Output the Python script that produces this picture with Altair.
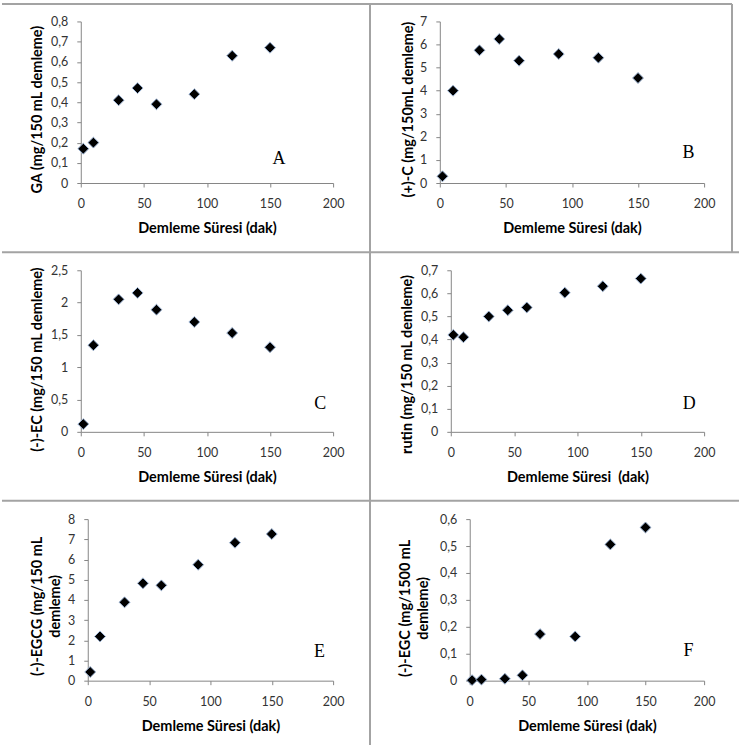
import altair as alt
import pandas as pd

# ---- data ----
times = [2, 10, 30, 45, 60, 90, 120, 150]
ga = [0.17, 0.20, 0.41, 0.47, 0.39, 0.44, 0.63, 0.67]
catechin = [0.29, 4.00, 5.75, 6.24, 5.30, 5.59, 5.43, 4.55]
ec = [0.12, 1.34, 2.05, 2.15, 1.89, 1.70, 1.53, 1.31]
rutin = [0.42, 0.41, 0.50, 0.527, 0.539, 0.603, 0.631, 0.664]
egcg = [0.43, 2.19, 3.88, 4.82, 4.72, 5.74, 6.83, 7.26]
egc = [0.002, 0.004, 0.007, 0.02, 0.173, 0.164, 0.506, 0.569]

x_ticks = [0, 50, 100, 150, 200]
y_ticks_a = [0, 0.1, 0.2, 0.3, 0.4, 0.5, 0.6, 0.7, 0.8]
y_ticks_b = [0, 1, 2, 3, 4, 5, 6, 7]
y_ticks_c = [0, 0.5, 1, 1.5, 2, 2.5]
y_ticks_d = [0, 0.1, 0.2, 0.3, 0.4, 0.5, 0.6, 0.7]
y_ticks_e = [0, 1, 2, 3, 4, 5, 6, 7, 8]
y_ticks_f = [0, 0.1, 0.2, 0.3, 0.4, 0.5, 0.6]

x_title = "Demleme Süresi (dak)"
x_title_d = "Demleme Süresi\u00a0 (dak)"

H = 162
W_LEFT = 253
W_RIGHT = 265
LABEL_EXPR = "replace(format(datum.value, '~g'), '.', ',')"

# panel border lines (decoration), pixel frame of panel A
BC = "#a3a3a3"
BW = 2


def hline(y, x1, x2):
    return alt.Chart().mark_rule(color=BC, strokeWidth=BW).encode(
        x=alt.value(x1), x2=alt.value(x2), y=alt.value(y))


def vline(x, y1, y2):
    return alt.Chart().mark_rule(color=BC, strokeWidth=BW).encode(
        x=alt.value(x), y=alt.value(y1), y2=alt.value(y2))


def panel(values, yticks, ytitle, letter, width, x0, tpad, ty, lx, ly,
          xtitle=x_title, extra=()):
    df = pd.DataFrame({"t": times, "v": values})
    pts = alt.Chart(df).mark_point(
        shape="diamond", filled=True, fill="black", stroke="#9fb6d6",
        strokeWidth=1, size=120, opacity=1
    ).encode(
        x=alt.X("t:Q", scale=alt.Scale(domain=[0, 200], nice=False, range=[x0, width]),
                axis=alt.Axis(values=x_ticks, title=xtitle)),
        y=alt.Y("v:Q", scale=alt.Scale(domain=[yticks[0], yticks[-1]], nice=False),
                axis=alt.Axis(values=yticks, title=ytitle, labelExpr=LABEL_EXPR,
                              titlePadding=tpad, titleY=ty, offset=-x0)),
    )
    lab = alt.Chart(pd.DataFrame({"letter": [letter]})).mark_text(
        font="Liberation Serif", fontSize=18, align="center", baseline="middle",
        color="black"
    ).encode(text="letter:N", x=alt.value(lx), y=alt.value(ly))
    return alt.layer(pts, lab, *extra).properties(width=width, height=H)


borders = (
    hline(-17.5, -79, 653),
    vline(653, -17.5, 231.5),
    vline(290, -17.5, 725.5),
    hline(231.5, -79, 660),
    hline(480.5, -79, 660),
)

pA = panel(ga, y_ticks_a, "GA (mg/150 mL demleme)", "A", W_LEFT, 0, 6, 88, 198.7, 137.8,
           extra=borders)
pB = panel(catechin, y_ticks_b, "(+)-C (mg/150mL demleme)", "B", W_RIGHT, 0, 4.5, 88, 249.3, 132.2)
pC = panel(ec, y_ticks_c, "(-)-EC (mg/150 mL demleme)", "C", W_LEFT, 0, 6.5, 89, 240, 134.3)
pD = panel(rutin, y_ticks_d, "rutin (mg/150 mL demleme)", "D", W_RIGHT, 11, 6, 94, 250, 134.3, x_title_d)
pE = panel(egcg, y_ticks_e, ["(-)-EGCG (mg/150 mL", "demleme)"], "E", W_LEFT, 7, 5.5, 87, 239.3, 132.8)
pF = panel(egc, y_ticks_f, ["(-)-EGC (mg/1500 mL", "demleme)"], "F", W_RIGHT, 30, 9, 89, 249.3, 132.2)

chart = alt.concat(
    pA, pB, pC, pD, pE, pF, columns=2, bounds="flush",
    spacing={"row": 87.5, "column": 107},
).properties(
    padding={"left": 0, "top": 1.5, "right": 0, "bottom": 0},
    background="white",
).configure_view(stroke="transparent").configure_axis(
    grid=False, domainColor="#868686", tickColor="#868686", tickSize=4,
    labelFont="Lato", labelFontSize=12.5, labelColor="#333333",
    titleFont="Lato", titleFontSize=14.5, titleFontWeight="bold", titleColor="black",
    minExtent=0, titleLineHeight=18,
).configure_axisX(labelPadding=11, titlePadding=11, labelFlush=False).configure_axisY(labelPadding=9)

chart.save("out.html", embed_options={"renderer": "svg", "actions": False})
